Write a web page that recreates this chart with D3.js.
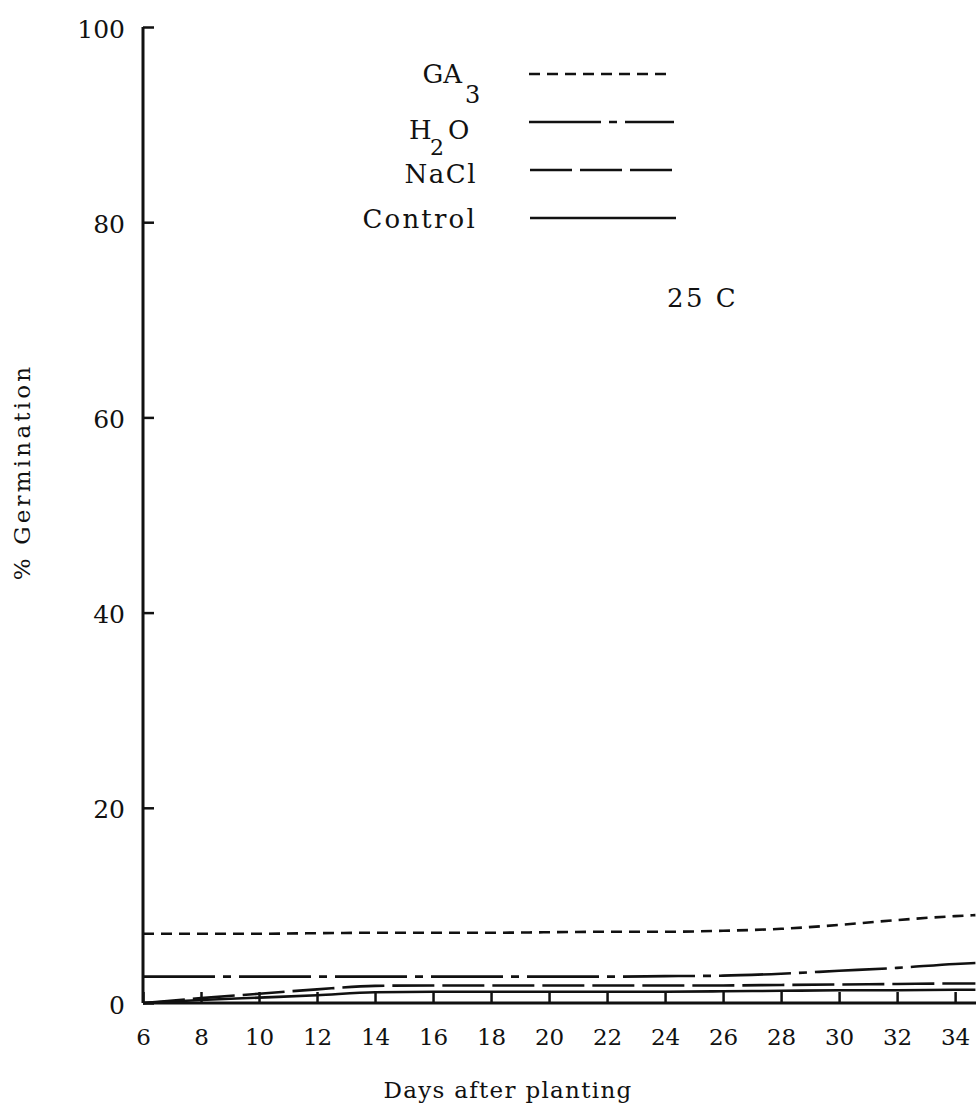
<!DOCTYPE html>
<html>
<head>
<meta charset="utf-8">
<script src="https://cdn.jsdelivr.net/npm/d3@7"></script>
<style>
  html, body { margin: 0; padding: 0; background: #fff; }
  svg { display: block; }
  text { font-family: "DejaVu Serif", serif; fill: #111; }
</style>
</head>
<body>
<svg id="chart" width="976" height="1112"></svg>
<script>
// ---- data ----
const days = [6, 8, 10, 12, 14, 16, 18, 20, 22, 24, 26, 28, 30, 32, 34, 34.7];
const ga3     = [7.1, 7.1, 7.1, 7.15, 7.2, 7.2, 7.2, 7.25, 7.3, 7.3, 7.4, 7.6, 8.0, 8.5, 8.9, 9.0];
const h2o     = [2.7, 2.7, 2.7, 2.7, 2.7, 2.7, 2.7, 2.7, 2.7, 2.75, 2.8, 3.0, 3.3, 3.6, 4.0, 4.1];
const nacl    = [0, 0.5, 0.95, 1.4, 1.75, 1.8, 1.8, 1.8, 1.8, 1.8, 1.8, 1.85, 1.9, 1.95, 2.0, 2.0];
const control = [0, 0.3, 0.55, 0.8, 1.1, 1.15, 1.15, 1.15, 1.15, 1.15, 1.2, 1.25, 1.3, 1.3, 1.35, 1.35];
const seriesNames = ["GA3", "H2O", "NaCl", "Control"];
const xTicks = [6, 8, 10, 12, 14, 16, 18, 20, 22, 24, 26, 28, 30, 32, 34];
const yTicks = [0, 20, 40, 60, 80, 100];
const xTitle = "Days after planting";
const yTitle = "% Germination";
const note = "25 C";

// ---- layout ----
const svg = d3.select("#chart");
const x = d3.scaleLinear().domain([6, 34.72]).range([143, 976]);
const y = d3.scaleLinear().domain([0, 100]).range([1003, 27]);

const dashes = { GA3: "11,7", H2O: "72,8,8,8", NaCl: "42,8", Control: null };
const seriesData = { GA3: ga3, H2O: h2o, NaCl: nacl, Control: control };

// lines
const line = d3.line().x(d => x(d[0])).y(d => y(d[1])).curve(d3.curveMonotoneX);
seriesNames.forEach(name => {
  const pts = days.map((d, i) => [d, seriesData[name][i]]);
  svg.append("path")
    .attr("d", line(pts))
    .attr("fill", "none")
    .attr("stroke", "#111")
    .attr("stroke-width", 2.6)
    .attr("stroke-dasharray", dashes[name]);
});

// axes
const xAxis = d3.axisBottom(x).tickValues(xTicks).tickSize(-11).tickPadding(26).tickFormat(d3.format("d"));
const gx = svg.append("g").attr("transform", `translate(0,${y(0)})`).call(xAxis);
gx.select(".domain").attr("d", `M${x(6)},0H976`).attr("stroke", "#111").attr("stroke-width", 3);
gx.selectAll(".tick line").attr("stroke", "#111").attr("stroke-width", 2.5);
gx.selectAll(".tick text").attr("font-size", 23).attr("font-family", "DejaVu Serif").attr("fill", "#111");

const yAxis = d3.axisLeft(y).tickValues(yTicks).tickSize(-11).tickPadding(18).tickFormat(d3.format("d"));
const gy = svg.append("g").attr("transform", `translate(${x(6)},0)`).call(yAxis);
gy.select(".domain").attr("d", `M0,${y(100)}V${y(0)}`).attr("stroke", "#111").attr("stroke-width", 3);
gy.selectAll(".tick line").attr("stroke", "#111").attr("stroke-width", 2.5);
gy.selectAll(".tick text").attr("font-size", 25).attr("font-family", "DejaVu Serif").attr("fill", "#111").attr("dy", "0.4em");

// axis titles
svg.append("text")
  .attr("x", 508).attr("y", 1098)
  .attr("text-anchor", "middle")
  .attr("font-size", 23).attr("letter-spacing", 1.3)
  .text(xTitle);
svg.append("text")
  .attr("transform", "translate(30,472) rotate(-90)")
  .attr("text-anchor", "middle")
  .attr("font-size", 23).attr("letter-spacing", 3.2)
  .text(yTitle);

// note
svg.append("text").attr("x", 667).attr("y", 307).attr("font-size", 26).attr("letter-spacing", 2.5).text(note);

// legend
const legY = { GA3: 74, H2O: 122, NaCl: 170, Control: 218 };
const legX0 = { GA3: 529, H2O: 529, NaCl: 530, Control: 530 };
const legX1 = { GA3: 667, H2O: 674, NaCl: 676, Control: 676 };
seriesNames.forEach(name => {
  svg.append("line")
    .attr("x1", legX0[name]).attr("x2", legX1[name])
    .attr("y1", legY[name]).attr("y2", legY[name])
    .attr("stroke", "#111").attr("stroke-width", 2.6)
    .attr("stroke-dasharray", dashes[name]);
});
const fs = 26;
// GA3
svg.append("text").attr("x", 462).attr("y", 83).attr("text-anchor", "end").attr("font-size", fs).text("GA");
svg.append("text").attr("x", 465).attr("y", 103).attr("font-size", 24).text("3");
// H2O
svg.append("text").attr("x", 409).attr("y", 139).attr("font-size", fs).text("H");
svg.append("text").attr("x", 430).attr("y", 155).attr("font-size", 22).text("2");
svg.append("text").attr("x", 448).attr("y", 139).attr("font-size", fs).text("O");
// NaCl
svg.append("text").attr("x", 477).attr("y", 183).attr("text-anchor", "end").attr("font-size", fs).attr("letter-spacing", 1.5).text("NaCl");
// Control
svg.append("text").attr("x", 477).attr("y", 228).attr("text-anchor", "end").attr("font-size", fs).attr("letter-spacing", 2.2).text("Control");
</script>
</body>
</html>
